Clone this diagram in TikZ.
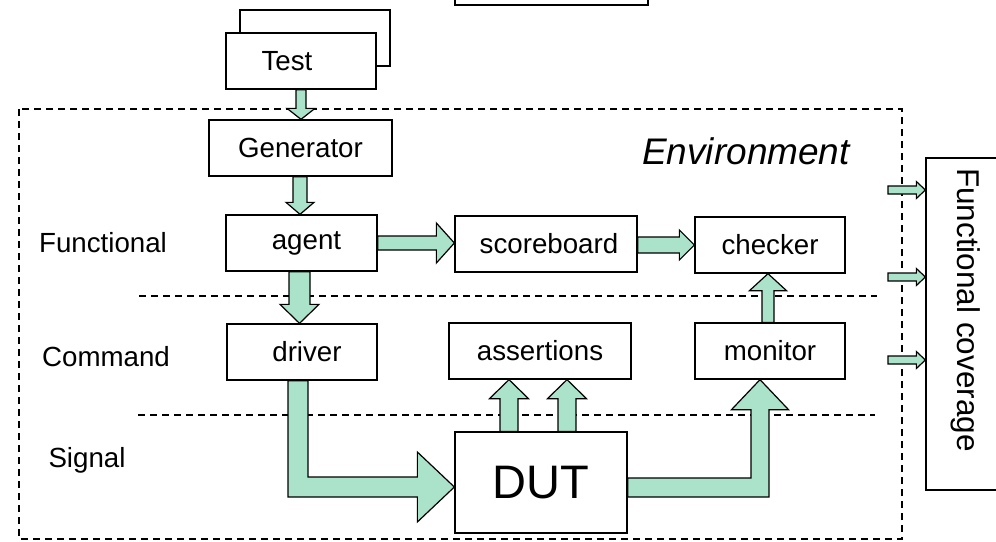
\documentclass[tikz,border=0pt]{standalone}
\usepackage{fontspec}
\setmainfont{Liberation Sans}
\usetikzlibrary{calc}
\definecolor{mint}{RGB}{170,226,202}
\tikzset{
  box/.style={draw=black, line width=1.3pt, fill=white, rectangle, inner sep=0pt,
    font=\fontsize{27.7}{32}\selectfont},
  lbl/.style={font=\fontsize{27.7}{32}\selectfont, inner sep=0pt},
  blk/.style={draw=black, line width=1.2pt, fill=mint, line join=miter},
  sep/.style={draw=black, line width=1.3pt, dash pattern=on 7pt off 5pt},
}
\newcommand{\vblock}[6]{\draw[blk] let \p1=($(#1)+(#3,0)$), \p2=(#2) in
  (\x1-#4pt,\y1) -- (\x1-#4pt,\y2+#6pt) -- (\x1-#5pt,\y2+#6pt) -- (\x1,\y2) --
  (\x1+#5pt,\y2+#6pt) -- (\x1+#4pt,\y2+#6pt) -- (\x1+#4pt,\y1) -- cycle;}
\newcommand{\hblock}[6]{\draw[blk] let \p1=($(#1)+(0,#3)$), \p2=(#2) in
  (\x1,\y1+#4pt) -- (\x2-#6pt,\y1+#4pt) -- (\x2-#6pt,\y1+#5pt) -- (\x2,\y1) --
  (\x2-#6pt,\y1-#5pt) -- (\x2-#6pt,\y1-#4pt) -- (\x1,\y1-#4pt) -- cycle;}
\begin{document}
\begin{tikzpicture}[x=1pt,y=-1pt]
\useasboundingbox (0,0) rectangle (996,541);
\clip (0,0) rectangle (996,541);

% environment frame and layer separators
\draw[sep] (19,109) rectangle (902,539);
\draw[sep] (139,296) -- (877,296);
\draw[sep] (138,415) -- (875,415);

% boxes
\node[box, minimum width=193, minimum height=40] (topbox) at (551.5,-15) {};
\node[box, minimum width=150, minimum height=56] (testback) at (315,38) {};
\node[box, minimum width=150, minimum height=56] (test) at (301,61) {Test\hspace*{28pt}};
\node[box, minimum width=183, minimum height=56] (generator) at (300.5,148) {Generator};
\node[box, minimum width=151, minimum height=56] (agent) at (301.5,243) {\hspace*{10pt}agent};
\node[box, minimum width=182, minimum height=56] (scoreboard) at (546,244) {\hspace*{6pt}scoreboard};
\node[box, minimum width=150, minimum height=56] (checker) at (770,245) {checker};
\node[box, minimum width=150, minimum height=56] (driver) at (302,352) {\hspace*{10pt}driver};
\node[box, minimum width=182, minimum height=56] (assertions) at (540,351) {assertions};
\node[box, minimum width=150, minimum height=56] (monitor) at (770,351) {monitor};
\node[box, minimum width=172, minimum height=101, font=\fontsize{47}{54}\selectfont] (dut) at (541,482.5) {DUT};
\node[box, minimum width=110, minimum height=332] (coverage) at (981,324) {};
\node[lbl, font=\fontsize{31.5}{36}\selectfont, rotate=-90] (covtext) at (966,310) {Functional coverage};

% labels
\node[lbl] (lfunc) at (103,243) {Functional};
\node[lbl] (lcmd) at (106,357) {Command};
\node[lbl] (lsig) at (87,460) {Signal};
\node[lbl, anchor=base, font=\fontsize{37}{42}\selectfont\itshape] (env) at (746,164) {Environment};

% block arrows
\vblock{test.south}{generator.north}{0}{5}{14}{11}
\vblock{generator.south}{agent.north}{-0.5}{7}{14}{12}
\vblock{agent.south}{driver.north}{-2}{10.5}{19.5}{19}
\vblock{monitor.north}{checker.south}{-2}{6}{18.5}{-17}
\vblock{dut.north}{assertions.south}{-32}{9}{19.5}{-19}
\vblock{dut.north}{assertions.south}{26}{9}{19.5}{-19}
\hblock{agent.east}{scoreboard.west}{0}{7}{20}{18}
\hblock{scoreboard.east}{checker.west}{1}{8}{15}{15}

\coordinate (c1) at (888,190);
\coordinate (c2) at (888,277);
\coordinate (c3) at (888,360);
\hblock{c1}{coverage.west |- c1}{0}{4}{8.5}{9}
\hblock{c2}{coverage.west |- c2}{0}{4}{8.5}{9}
\hblock{c3}{coverage.west |- c3}{0}{4}{8.5}{9}

% driver -> DUT
\draw[blk] let \p1=($(driver.south)+(-4,0)$), \p2=($(dut.west)+(0,4.5)$) in
  (\x1-10pt,\y1) -- (\x1-10pt,\y2-10pt) -- (\x2-37pt,\y2-10pt) -- (\x2-37pt,\y2-35pt) --
  (\x2,\y2) -- (\x2-37pt,\y2+35pt) -- (\x2-37pt,\y2+10pt) -- (\x1+10pt,\y2+10pt) --
  (\x1+10pt,\y1) -- cycle;
% DUT -> monitor
\draw[blk] let \p1=($(dut.east)+(0,5)$), \p2=($(monitor.south)+(-10,0)$) in
  (\x1,\y1+9.5pt) -- (\x2-9pt,\y1+9.5pt) -- (\x2-9pt,\y2-30pt) -- (\x2-28.5pt,\y2-30pt) --
  (\x2,\y2) -- (\x2+28.5pt,\y2-30pt) -- (\x2+9pt,\y2-30pt) -- (\x2+9pt,\y1-9.5pt) --
  (\x1,\y1-9.5pt) -- cycle;
\end{tikzpicture}
\end{document}
